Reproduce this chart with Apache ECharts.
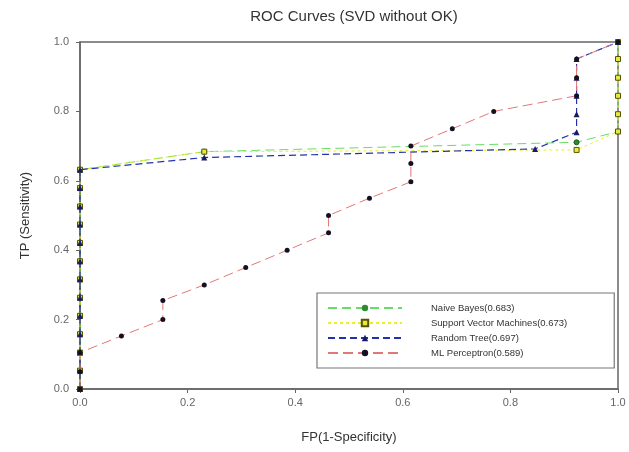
<!DOCTYPE html>
<html><head><meta charset="utf-8">
<script src="https://cdn.jsdelivr.net/npm/echarts@6/dist/echarts.min.js"></script>
<style>html,body{margin:0;padding:0;background:#fff}#c{width:629px;height:452px}</style>
</head><body><div id="c"></div>
<script>
const xTicks = [0.0, 0.2, 0.4, 0.6, 0.8, 1.0];
const yTicks = [0.0, 0.2, 0.4, 0.6, 0.8, 1.0];
const seriesNames = ['Naive Bayes(0.683)', 'Support Vector Machines(0.673)', 'Random Tree(0.697)', 'ML Perceptron(0.589)'];

const fpNB  = [0,0,0,0,0,0,0,0,0,0,0,0,0, 0.231, 0.923, 1, 1];
const tpNB  = [0,0.053,0.105,0.158,0.211,0.263,0.316,0.368,0.421,0.474,0.526,0.579,0.632, 0.684, 0.711, 0.742, 1];

const fpSVM = [0,0,0,0,0,0,0,0,0,0,0,0,0, 0.231, 0.923, 1, 1, 1, 1, 1, 1];
const tpSVM = [0,0.053,0.105,0.158,0.211,0.263,0.316,0.368,0.421,0.474,0.526,0.579,0.632, 0.684, 0.689, 0.742, 0.792, 0.845, 0.897, 0.951, 1];

const fpRT  = [0,0,0,0,0,0,0,0,0,0,0,0,0, 0.231, 0.846, 0.923, 0.923, 0.923, 0.923, 0.923, 1];
const tpRT  = [0,0.053,0.105,0.158,0.211,0.263,0.316,0.368,0.421,0.474,0.526,0.579,0.632, 0.667, 0.692, 0.740, 0.792, 0.845, 0.897, 0.951, 1];

const fpML  = [0,0,0, 0.077, 0.154, 0.154, 0.231, 0.308, 0.385, 0.462, 0.462, 0.538, 0.615, 0.615, 0.615, 0.692, 0.769, 0.923, 0.923, 0.923, 1];
const tpML  = [0,0.05,0.105, 0.153, 0.2, 0.255, 0.3, 0.35, 0.4, 0.45, 0.5, 0.55, 0.597, 0.65, 0.7, 0.75, 0.8, 0.845, 0.897, 0.951, 1];

const pairs = (xs, ys) => xs.map((x, i) => [x, ys[i]]);

const chart = echarts.init(document.getElementById('c'), null, {renderer: 'canvas'});
const FONT = 'Liberation Sans, Arial, sans-serif';
chart.setOption({
  backgroundColor: '#fff',
  animation: false,
  title: {
    text: 'ROC Curves (SVD without OK)', left: 349, top: 4, textAlign: 'center',
    textStyle: {fontFamily: FONT, fontSize: 15, fontWeight: 'normal', color: '#333'}
  },
  grid: {left: 80, right: 11, top: 42, bottom: 63, show: true, borderColor: '#666', borderWidth: 1.5, backgroundColor: 'transparent'},
  xAxis: {
    type: 'value', min: 0, max: 1, interval: 0.2,
    name: 'FP(1-Specificity)', nameLocation: 'middle', nameGap: 42,
    nameTextStyle: {fontFamily: FONT, fontSize: 13, color: '#333'},
    axisLine: {show: true, lineStyle: {color: '#666', width: 1.5}},
    axisTick: {show: true, length: 4, lineStyle: {color: '#666'}},
    axisLabel: {fontFamily: FONT, fontSize: 11, color: '#666', margin: 8, formatter: v => v.toFixed(1)},
    splitLine: {show: false}
  },
  yAxis: {
    type: 'value', min: 0, max: 1, interval: 0.2,
    name: 'TP (Sensitivity)', nameLocation: 'middle', nameGap: 48,
    nameTextStyle: {fontFamily: FONT, fontSize: 13, color: '#333'},
    axisLine: {show: true, lineStyle: {color: '#666', width: 1.5}},
    axisTick: {show: true, length: 4, lineStyle: {color: '#666'}},
    axisLabel: {fontFamily: FONT, fontSize: 11, color: '#666', margin: 11, formatter: v => v.toFixed(1)},
    splitLine: {show: false}
  },
  legend: {
    orient: 'vertical', left: 317, top: 293,
    data: seriesNames,
    backgroundColor: '#fff', borderColor: '#777', borderWidth: 1.2,
    padding: [10, 47, 10, 10], itemGap: 5, itemWidth: 74, itemHeight: 8,
    textStyle: {fontFamily: FONT, fontSize: 9.5, color: '#333', padding: [0, 0, 0, 24]}
  },
  series: [
    {name: seriesNames[0], type: 'line', data: pairs(fpNB, tpNB), symbol: 'circle', symbolSize: 5,
     lineStyle: {color: '#66dd66', width: 1, type: [9, 5]}, itemStyle: {color: '#2e8b2e', borderColor: '#1a5a1a'}, z: 2},
    {name: seriesNames[1], type: 'line', data: pairs(fpSVM, tpSVM), symbol: 'rect', symbolSize: 5,
     lineStyle: {color: '#eeee22', width: 1, type: [3, 3]}, itemStyle: {color: '#e8e840', borderColor: '#555500', borderWidth: 1}, z: 3},
    {name: seriesNames[2], type: 'line', data: pairs(fpRT, tpRT), symbol: 'triangle', symbolSize: 6,
     lineStyle: {color: '#2233aa', width: 1.2, type: [7, 4]}, itemStyle: {color: '#1a1a60'}, z: 4},
    {name: seriesNames[3], type: 'line', data: pairs(fpML, tpML), symbol: 'circle', symbolSize: 5,
     lineStyle: {color: '#e07878', width: 1, type: [10, 5]}, itemStyle: {color: '#151020'}, z: 5}
  ]
});
</script></body></html>
